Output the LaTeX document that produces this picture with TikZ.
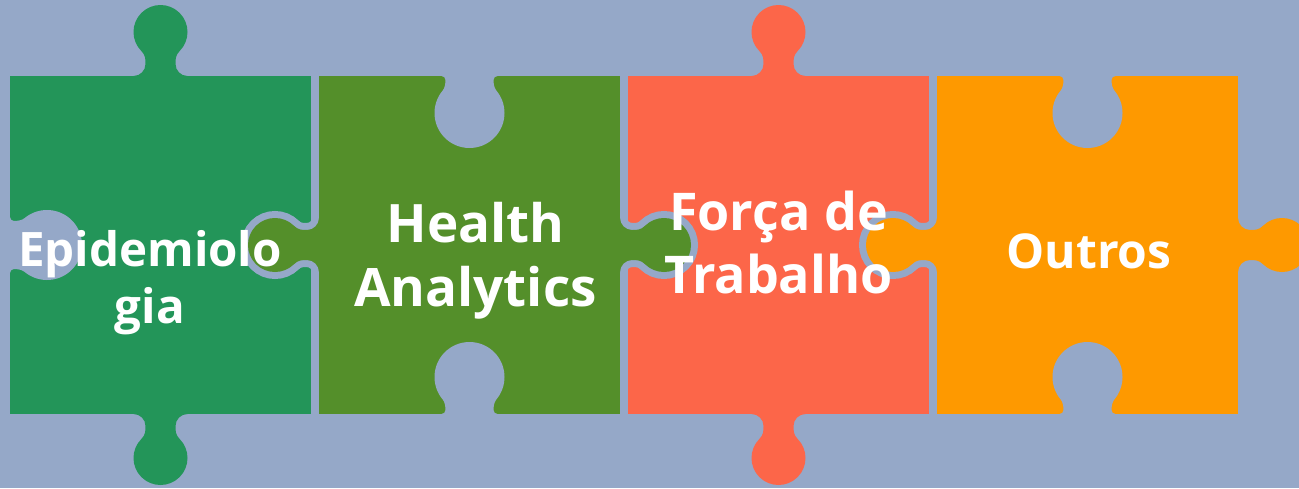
\documentclass[tikz,border=0pt]{standalone}
\usepackage{fontspec}
\setmainfont{Open Sans}
\definecolor{bgc}{HTML}{95A8C8}
\definecolor{gc}{HTML}{239559}
\definecolor{oc}{HTML}{548F2A}
\definecolor{rc}{HTML}{FC6649}
\definecolor{yc}{HTML}{FE9900}
\newcommand{\tabshape}{(0,-27) arc[start angle=180,end angle=90,radius=12] .. controls (17,-15) and (20.91,-15.09) .. (24.91,-19.09) arc[start angle=225,end angle=495,radius=27] .. controls (20.91,15.09) and (17,15) .. (12,15) arc[start angle=270,end angle=180,radius=12]}
\newcommand{\holeshape}{(0,-28) arc[start angle=180,end angle=90,radius=4] .. controls (8,-24) and (12.2,-24.9) .. (14.5,-26.81) arc[start angle=230,end angle=490,radius=35] .. controls (12.2,24.9) and (8,24) .. (4,24) arc[start angle=270,end angle=180,radius=4]}
\tikzset{
  pup/.style={x={(0pt,1pt)},y={(1pt,0pt)}},
  pdown/.style={x={(0pt,-1pt)},y={(1pt,0pt)}},
  pleft/.style={x={(-1pt,0pt)},y={(0pt,1pt)}},
  pright/.style={x={(1pt,0pt)},y={(0pt,1pt)}},
  gapline/.style={draw=bgc,line width=14pt},
  lbl/.style={text=white,anchor=base,inner sep=0pt}
}
\begin{document}
\begin{tikzpicture}[x=1pt,y=-1pt]
\fill[bgc] (0,0) rectangle (1299,488);
\useasboundingbox (0,0) rectangle (1299,488);
% bodies
\fill[gc] (10,76) rectangle (311,414);
\fill[oc] (319,76) rectangle (620,414);
\fill[rc] (628,76) rectangle (929,414);
\fill[yc] (937,76) rectangle (1238,414);
% free tabs
\begin{scope}[shift={(160.5,76)},pup] \fill[gc] \tabshape -- (-2,27) -- (-2,-27) -- cycle; \end{scope}
\begin{scope}[shift={(160.5,414)},pdown] \fill[gc] \tabshape -- (-2,27) -- (-2,-27) -- cycle; \end{scope}
\begin{scope}[shift={(778.5,76)},pup] \fill[rc] \tabshape -- (-2,27) -- (-2,-27) -- cycle; \end{scope}
\begin{scope}[shift={(778.5,414)},pdown] \fill[rc] \tabshape -- (-2,27) -- (-2,-27) -- cycle; \end{scope}
\begin{scope}[shift={(1238,245)},pright] \fill[yc] \tabshape -- (-2,27) -- (-2,-27) -- cycle; \end{scope}
% holes
\begin{scope}[shift={(10,245)},pright] \fill[bgc] \holeshape -- (-2,28) -- (-2,-28) -- cycle; \end{scope}
\begin{scope}[shift={(469.5,76)},pdown] \fill[bgc] \holeshape -- (-2,28) -- (-2,-28) -- cycle; \end{scope}
\begin{scope}[shift={(469.5,414)},pup] \fill[bgc] \holeshape -- (-2,28) -- (-2,-28) -- cycle; \end{scope}
\begin{scope}[shift={(1087.5,76)},pdown] \fill[bgc] \holeshape -- (-2,28) -- (-2,-28) -- cycle; \end{scope}
\begin{scope}[shift={(1087.5,414)},pup] \fill[bgc] \holeshape -- (-2,28) -- (-2,-28) -- cycle; \end{scope}
% interlocking tabs
\begin{scope}[shift={(319,245)},pleft]
  \draw[gapline] \tabshape;
  \fill[oc] \tabshape -- (-9,27) -- (-9,-27) -- cycle;
\end{scope}
\begin{scope}[shift={(620,245)},pright]
  \draw[gapline] \tabshape;
  \fill[oc] \tabshape -- (-9,27) -- (-9,-27) -- cycle;
\end{scope}
\begin{scope}[shift={(937,245)},pleft]
  \draw[gapline] \tabshape;
  \fill[yc] \tabshape -- (-9,27) -- (-9,-27) -- cycle;
\end{scope}
% labels
\node[lbl,font=\bfseries\fontsize{47.5}{56}\selectfont] (t1a) at (150,266) {Epidemiolo};
\node[lbl,font=\bfseries\fontsize{47.5}{56}\selectfont] (t1b) at (150,323) {gia};
\node[lbl,font=\bfseries\fontsize{53}{64}\selectfont] (t2a) at (475.5,242.3) {Health};
\node[lbl,font=\bfseries\fontsize{53}{64}\selectfont] (t2b) at (475.5,306.7) {Analytics};
\node[lbl,font=\bfseries\fontsize{52}{63}\selectfont] (t3a) at (778.5,230) {Força de};
\node[lbl,font=\bfseries\fontsize{52}{63}\selectfont] (t3b) at (778.5,293.3) {Trabalho};
\node[lbl,font=\bfseries\fontsize{48}{58}\selectfont] (t4) at (1089,268) {Outros};
\end{tikzpicture}
\end{document}
